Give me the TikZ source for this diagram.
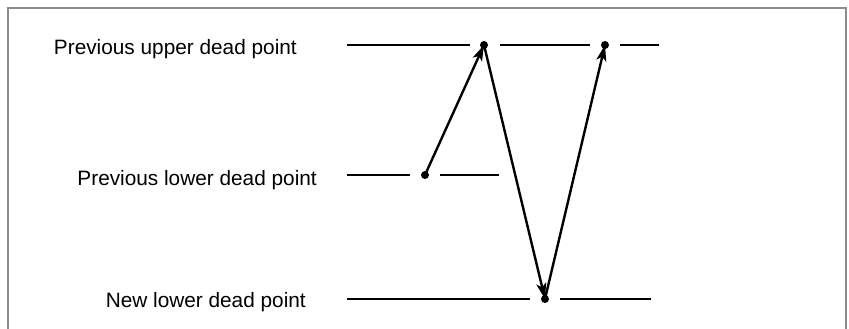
\documentclass[tikz,border=0pt]{standalone}
\usepackage{fontspec}
\setmainfont{Liberation Sans}
\usetikzlibrary{arrows.meta}
\begin{document}
\begin{tikzpicture}[x=1pt,y=-1pt,
  lbl/.style={anchor=base east,inner sep=0pt,font=\fontsize{20.8}{24}\selectfont},
  lvl/.style={line width=2.6pt,black},
  dotn/.style={circle,fill=black,inner sep=0pt,minimum size=8pt},
  mv/.style={line width=2.4pt,-{Stealth[length=16pt,width=10pt,inset=4pt]}},
  frm/.style={line width=2.4pt,draw=black!45}]
\useasboundingbox (0,0) rectangle (849,329);
\draw[frm] (8,330) -- (8,8) -- (846,8) -- (846,330);
% labels
\node[lbl] (tu) at (297,55) {Previous upper dead point};
\node[lbl] (tl) at (317,185) {Previous lower dead point};
\node[lbl] (tn) at (306,307) {New lower dead point};
% dots
\node[dotn] (u1) at (484,45) {};
\node[dotn] (u2) at (605,45) {};
\node[dotn] (l1) at (425,175) {};
\node[dotn] (n1) at (545,299) {};
% level coordinates
\coordinate (a1) at (347,45); \coordinate (a2) at (470,45);
\coordinate (a3) at (500,45); \coordinate (a4) at (590,45);
\coordinate (a5) at (620,45); \coordinate (a6) at (659,45);
\coordinate (b1) at (347,175); \coordinate (b2) at (410,175);
\coordinate (b3) at (440,175); \coordinate (b4) at (499,175);
\coordinate (c1) at (347,299); \coordinate (c2) at (530,299);
\coordinate (c3) at (560,299); \coordinate (c4) at (651,299);
\draw[lvl] (a1) -- (a2) (a3) -- (a4) (a5) -- (a6);
\draw[lvl] (b1) -- (b2) (b3) -- (b4);
\draw[lvl] (c1) -- (c2) (c3) -- (c4);
% moves
\draw[mv] (l1.center) -- (u1.center);
\draw[mv] (u1.center) -- (n1.center);
\draw[mv] (n1.center) -- (u2.center);
\end{tikzpicture}
\end{document}
